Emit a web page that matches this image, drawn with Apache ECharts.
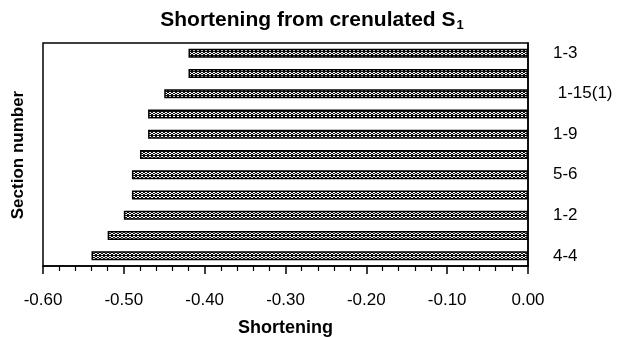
<!DOCTYPE html>
<html>
<head>
<meta charset="utf-8">
<script src="https://cdn.jsdelivr.net/npm/echarts@6/dist/echarts.min.js"></script>
<style>
  html, body { margin: 0; background: #fff; }
  #chart { width: 624px; height: 337px; }
</style>
</head>
<body>
<div id="chart"></div>
<script>
  // section labels, top to bottom (only every other one is printed)
  const sections = ['1-3', '', ' 1-15(1)', '', '1-9', '', '5-6', '', '1-2', '', '4-4'];
  // shortening per section
  const shortening = [-0.42, -0.42, -0.45, -0.47, -0.47, -0.48, -0.49, -0.49, -0.50, -0.52, -0.54];

  const font = 'Liberation Sans, Arial, sans-serif';

  // dotted fill for the bars: small white rings on black
  const tile = document.createElement('canvas');
  tile.width = 4;
  tile.height = 4;
  const g = tile.getContext('2d');
  g.fillStyle = '#111';
  g.fillRect(0, 0, 4, 4);
  g.fillStyle = '#fff';
  g.fillRect(1, 0, 2, 1);
  g.fillRect(0, 1, 1, 1);
  g.fillRect(3, 1, 1, 1);
  g.fillRect(1, 2, 2, 1);

  const chart = echarts.init(document.getElementById('chart'));
  chart.setOption({
    animation: false,
    title: {
      text: '{a|Shortening from crenulated S}{b|1}',
      left: 'center',
      top: 4,
      textStyle: {
        rich: {
          a: { fontFamily: font, fontSize: 21, fontWeight: 'bold', color: '#000' },
          b: { fontFamily: font, fontSize: 13, fontWeight: 'bold', color: '#000', padding: [10, 0, 0, 1] }
        }
      }
    },
    grid: {
      left: 43, right: 96, top: 43, bottom: 71,
      outerBoundsMode: 'none',
      show: true, borderColor: '#000', borderWidth: 1.5
    },
    xAxis: {
      type: 'value',
      min: -0.6, max: 0, interval: 0.1,
      name: 'Shortening',
      nameLocation: 'middle',
      nameGap: 53,
      nameTextStyle: { fontFamily: font, fontSize: 18, fontWeight: 'bold', color: '#000' },
      axisLine: { show: true, lineStyle: { color: '#000', width: 1.5 } },
      axisTick: { show: true, length: 8, lineStyle: { color: '#000', width: 1.5 } },
      minorTick: { show: true, splitNumber: 5, length: 5, lineStyle: { color: '#000', width: 1.2 } },
      splitLine: { show: false },
      axisLabel: {
        margin: 26,
        fontFamily: font, fontSize: 17, color: '#000',
        formatter: v => v.toFixed(2)
      }
    },
    yAxis: {
      type: 'category',
      data: sections,
      inverse: true,
      position: 'right',
      axisLine: { show: true, lineStyle: { color: '#000', width: 1.5 } },
      axisTick: { show: false },
      axisLabel: { interval: 0, margin: 25, fontFamily: font, fontSize: 17, color: '#000', align: 'left' }
    },
    graphic: [{
      type: 'text',
      x: 18, y: 155,
      rotation: Math.PI / 2,
      style: {
        text: 'Section number',
        fontFamily: font, fontSize: 17, fontWeight: 'bold', fill: '#000',
        align: 'center', verticalAlign: 'middle'
      }
    }],
    series: [{
      type: 'bar',
      data: shortening,
      barWidth: 9,
      itemStyle: {
        color: { image: tile, repeat: 'repeat' },
        borderColor: '#000',
        borderWidth: 1.5
      }
    }]
  });
</script>
</body>
</html>
